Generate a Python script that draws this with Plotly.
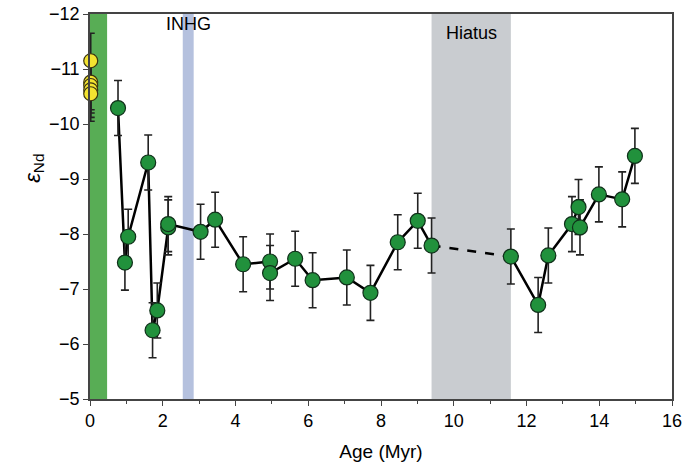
import plotly.graph_objects as go

# Core-top / modern samples (yellow)
modern_age = [0.02, 0.02, 0.02, 0.02, 0.02]
modern_end = [-11.15, -10.76, -10.70, -10.62, -10.55]
modern_err = [0.5, 0.5, 0.5, 0.5, 0.5]

# Down-core record (green), ordered by age
age = [0.77, 0.96, 1.05, 1.60, 1.72, 1.85, 2.15, 2.15, 3.04, 3.44, 4.21, 4.95, 4.95,
       5.64, 6.12, 7.06, 7.71, 8.46, 9.01, 9.39,
       11.57, 12.32, 12.60, 13.25, 13.43, 13.47, 13.99, 14.63, 14.98]
end = [-10.29, -7.48, -7.95, -9.30, -6.25, -6.61, -8.12, -8.18, -8.04, -8.26, -7.45, -7.50, -7.29,
       -7.55, -7.16, -7.21, -6.93, -7.85, -8.24, -7.79,
       -7.59, -6.71, -7.61, -8.18, -8.49, -8.12, -8.72, -8.63, -9.42]
end_err = [0.5] * len(age)

# Split around the hiatus (last point before, first point after)
n_before = 20

# Shaded intervals
green_band = (0.0, 0.47)
inhg_band = (2.55, 2.85)
hiatus_band = (9.39, 11.57)

x_ticks = [0, 2, 4, 6, 8, 10, 12, 14, 16]
y_ticks = [-12, -11, -10, -9, -8, -7, -6, -5]

font_main = "Liberation Sans, Arial, sans-serif"

fig = go.Figure()

for (x0, x1), col in [(green_band, "#58ad55"), (inhg_band, "#b5c1de"), (hiatus_band, "#c9ccd0")]:
    fig.add_shape(type="rect", xref="x", yref="y", x0=x0, x1=x1, y0=-5, y1=-12,
                  fillcolor=col, line_width=0, layer="below")

# Connecting lines
fig.add_trace(go.Scatter(x=age[:n_before], y=end[:n_before], mode="lines",
                         line=dict(color="black", width=2.5), showlegend=False, hoverinfo="skip"))
fig.add_trace(go.Scatter(x=age[n_before - 1:n_before + 1], y=end[n_before - 1:n_before + 1], mode="lines",
                         line=dict(color="black", width=2.5, dash="dash"), showlegend=False, hoverinfo="skip"))
fig.add_trace(go.Scatter(x=age[n_before:], y=end[n_before:], mode="lines",
                         line=dict(color="black", width=2.5), showlegend=False, hoverinfo="skip"))

# Data points with 2-sigma error bars
fig.add_trace(go.Scatter(x=age, y=end, mode="markers",
                         marker=dict(size=15, color="#21913c", line=dict(color="#10301a", width=1.2)),
                         error_y=dict(type="data", array=end_err, color="#222222", thickness=1.6, width=4),
                         showlegend=False))
fig.add_trace(go.Scatter(x=modern_age, y=modern_end, mode="markers", cliponaxis=False,
                         marker=dict(size=14, color="#f3e330", line=dict(color="#3a3410", width=1.2)),
                         error_y=dict(type="data", array=modern_err, color="#222222", thickness=1.6, width=4),
                         showlegend=False))

fig.add_annotation(x=sum(inhg_band) / 2, y=-11.82, text="INHG", showarrow=False, xref="x", yref="y",
                   font=dict(family=font_main, size=18, color="black"))
fig.add_annotation(x=sum(hiatus_band) / 2, y=-11.65, text="Hiatus", showarrow=False, xref="x", yref="y",
                   font=dict(family=font_main, size=18, color="black"))

# Y-axis title placed explicitly
fig.add_annotation(x=-0.124, y=0.6, xref="paper", yref="paper", showarrow=False, textangle=-90,
                   text="<i>ε</i><sub>Nd</sub>", font=dict(family=font_main, size=22, color="black"))

fig.update_layout(
    width=683, height=469,
    margin=dict(l=90, r=11, t=14, b=70),
    plot_bgcolor="white", paper_bgcolor="white",
    font=dict(family=font_main, size=18, color="black"),
    xaxis=dict(range=[0, 16], tickvals=x_ticks, ticks="outside", ticklen=5, tickcolor="#444",
               showline=True, linecolor="#444", linewidth=1.5, mirror=True, showgrid=False, zeroline=False,
               automargin=False,
               minor=dict(dtick=1, ticks="outside", ticklen=3, tickcolor="#444"),
               title=dict(text="Age (Myr)", standoff=14, font=dict(size=19))),
    yaxis=dict(range=[-5, -12], tickvals=y_ticks, ticks="outside", ticklen=5, tickcolor="#444",
               showline=True, linecolor="#444", linewidth=1.5, mirror=True, showgrid=False, zeroline=False,
               automargin=False),
)

fig.write_html("out.html")
